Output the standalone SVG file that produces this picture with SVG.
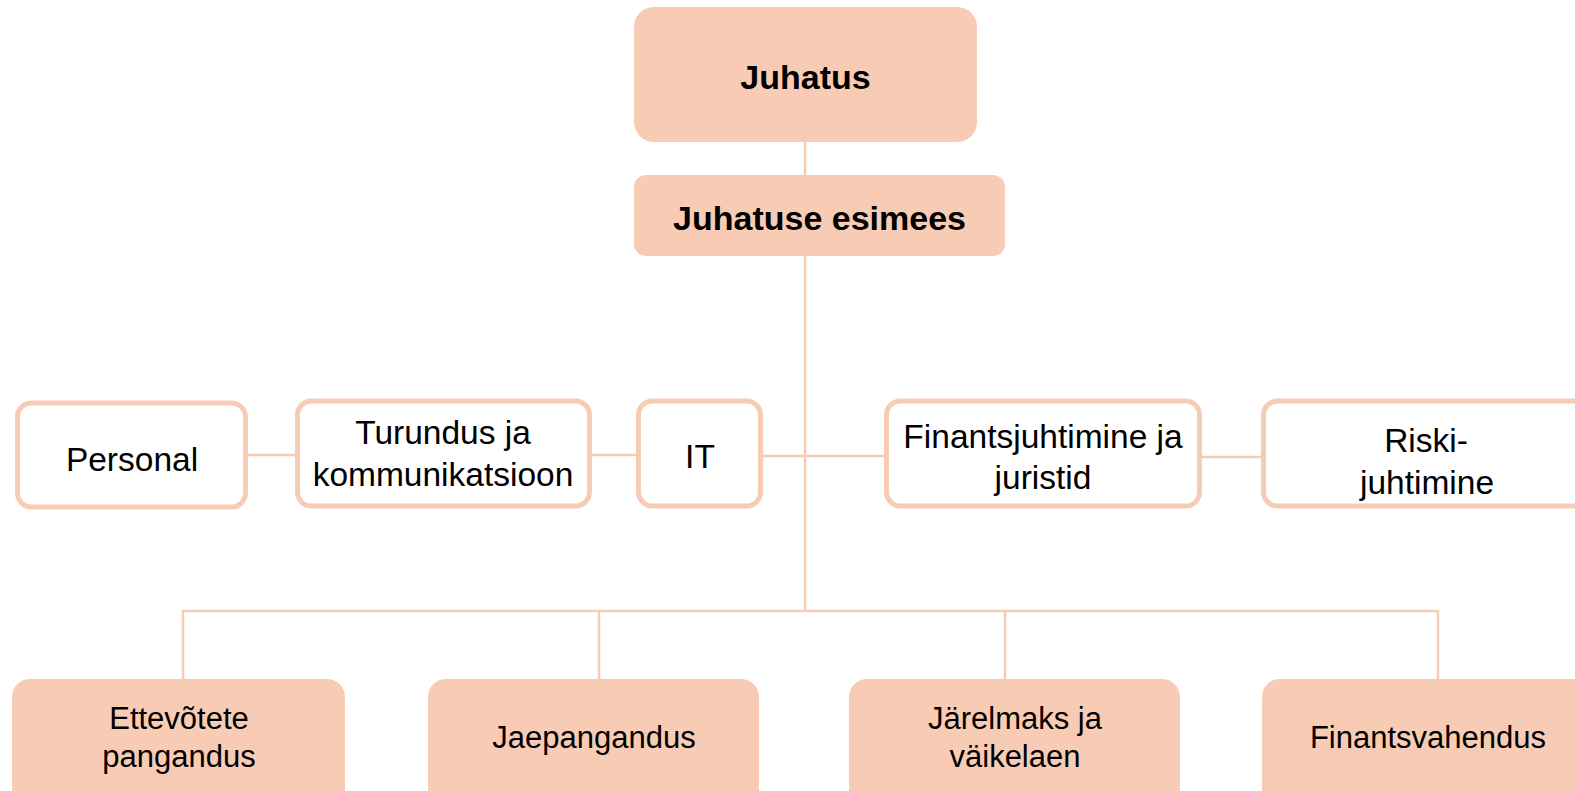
<svg xmlns="http://www.w3.org/2000/svg" width="1575" height="791" viewBox="0 0 1575 791">
<style>
.fill{fill:#f8cbb4;}
.out{fill:#ffffff;stroke:#f8cbb4;stroke-width:5;}
.con{stroke:#f8cbb4;stroke-width:2.5;fill:none;}
.b{font-family:"Liberation Sans",Arial,sans-serif;font-weight:bold;font-size:34px;fill:#000;text-anchor:middle;}
.m{font-family:"Liberation Sans",Arial,sans-serif;font-size:33.5px;fill:#000;text-anchor:middle;}
.s{font-family:"Liberation Sans",Arial,sans-serif;font-size:31px;fill:#000;text-anchor:middle;}
</style>
<rect width="1575" height="791" fill="#ffffff"/>
<g id="connectors">
<line class="con" x1="805" y1="140" x2="805" y2="177"/>
<line class="con" x1="805" y1="254" x2="805" y2="611"/>
<line class="con" x1="246" y1="455" x2="297" y2="455"/>
<line class="con" x1="590" y1="455" x2="638" y2="455"/>
<line class="con" x1="761" y1="456" x2="886" y2="456"/>
<line class="con" x1="1200" y1="457" x2="1263" y2="457"/>
<polyline class="con" points="183,679 183,611 1438,611 1438,679"/>
<line class="con" x1="599" y1="611" x2="599" y2="679"/>
<line class="con" x1="1005" y1="611" x2="1005" y2="679"/>
</g>
<g id="juhatus">
<rect class="fill" x="634" y="7" width="343" height="135" rx="20"/>
<text class="b" x="805.5" y="89">Juhatus</text>
</g>
<g id="juhatuse-esimees">
<rect class="fill" x="634" y="175" width="371" height="81" rx="12"/>
<text class="b" x="819.5" y="230">Juhatuse esimees</text>
</g>
<g id="personal">
<rect class="out" x="17.5" y="403" width="228" height="104" rx="14"/>
<text class="m" x="132" y="471">Personal</text>
</g>
<g id="turundus">
<rect class="out" x="297.5" y="401" width="292" height="105" rx="14"/>
<text class="m" x="443" y="444">Turundus ja</text>
<text class="m" x="443" y="486">kommunikatsioon</text>
</g>
<g id="it">
<rect class="out" x="638.5" y="401" width="122" height="105" rx="14"/>
<text class="m" x="700" y="468">IT</text>
</g>
<g id="finantsjuhtimine">
<rect class="out" x="886.5" y="401" width="313" height="105" rx="14"/>
<text class="m" x="1043" y="448">Finantsjuhtimine ja</text>
<text class="m" x="1043" y="489">juristid</text>
</g>
<g id="riskijuhtimine">
<rect class="out" x="1263.5" y="401" width="330" height="105" rx="14"/>
<text class="m" x="1426" y="452">Riski-</text>
<text class="m" x="1427" y="494">juhtimine</text>
</g>
<g id="ettevotete-pangandus">
<rect class="fill" x="12" y="679" width="333" height="140" rx="18"/>
<text class="s" x="179" y="729">Ettevõtete</text>
<text class="s" x="179" y="767">pangandus</text>
</g>
<g id="jaepangandus">
<rect class="fill" x="428" y="679" width="331" height="140" rx="18"/>
<text class="s" x="594" y="748">Jaepangandus</text>
</g>
<g id="jarelmaks">
<rect class="fill" x="849" y="679" width="331" height="140" rx="18"/>
<text class="s" x="1015" y="729">Järelmaks ja</text>
<text class="s" x="1015" y="767">väikelaen</text>
</g>
<g id="finantsvahendus">
<rect class="fill" x="1262" y="679" width="340" height="140" rx="18"/>
<text class="s" x="1428" y="748">Finantsvahendus</text>
</g>
</svg>
